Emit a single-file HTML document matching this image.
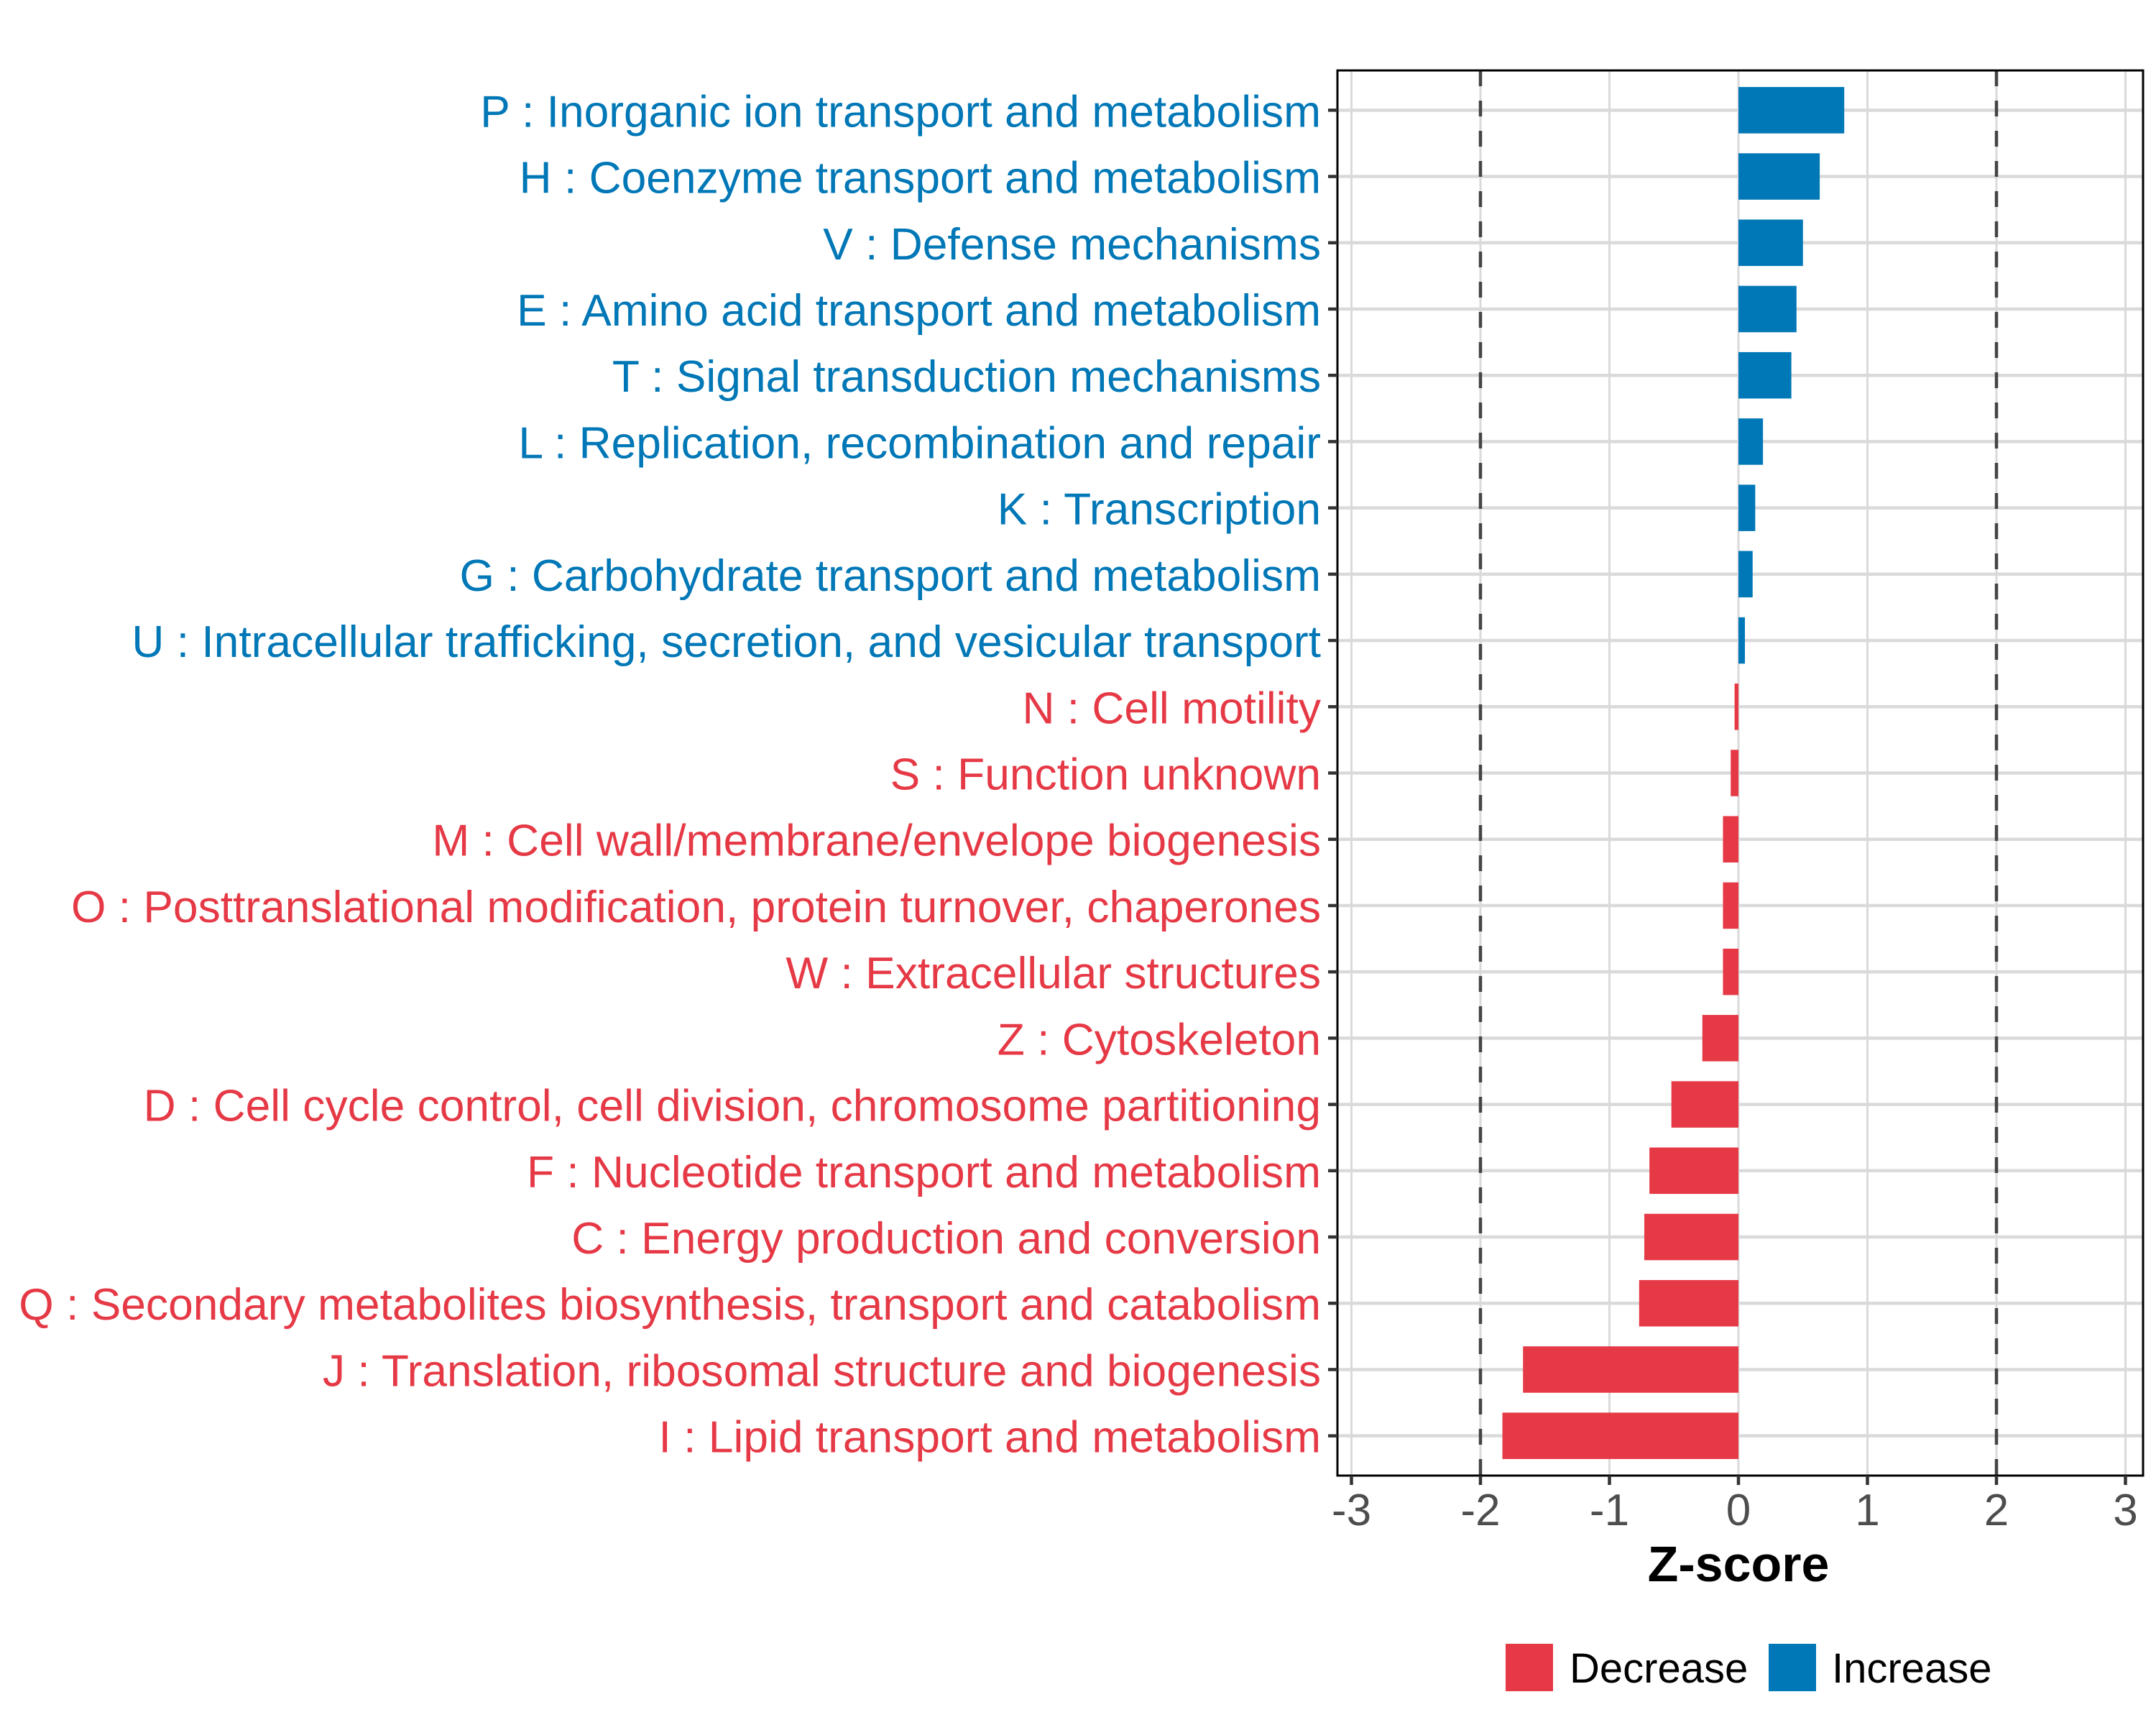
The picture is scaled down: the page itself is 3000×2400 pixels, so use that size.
<!DOCTYPE html>
<html><head><meta charset="utf-8"><style>html,body{margin:0;padding:0;background:#fff}svg{display:block}</style></head>
<body>
<svg id="chart" width="3000" height="2400" xmlns="http://www.w3.org/2000/svg" font-family="'Liberation Sans', sans-serif"></svg>
<script>
const categories = ["P : Inorganic ion transport and metabolism","H : Coenzyme transport and metabolism","V : Defense mechanisms","E : Amino acid transport and metabolism","T : Signal transduction mechanisms","L : Replication, recombination and repair","K : Transcription","G : Carbohydrate transport and metabolism","U : Intracellular trafficking, secretion, and vesicular transport","N : Cell motility","S : Function unknown","M : Cell wall/membrane/envelope biogenesis","O : Posttranslational modification, protein turnover, chaperones","W : Extracellular structures","Z : Cytoskeleton","D : Cell cycle control, cell division, chromosome partitioning","F : Nucleotide transport and metabolism","C : Energy production and conversion","Q : Secondary metabolites biosynthesis, transport and catabolism","J : Translation, ribosomal structure and biogenesis","I : Lipid transport and metabolism"];
const zscores = [0.82,0.63,0.50,0.45,0.41,0.19,0.13,0.11,0.05,-0.03,-0.06,-0.12,-0.12,-0.12,-0.28,-0.52,-0.69,-0.73,-0.77,-1.67,-1.83];
const xTicks = [-3,-2,-1,0,1,2,3];
const thresholds = [-2,2];
const legendLabels = ["Decrease","Increase"];

const NS="http://www.w3.org/2000/svg";
const svg=document.getElementById('chart');
const L=1861,R=2982,T=98,B=2053;
const x0=2419,unit=179.5;
const xs=v=>x0+v*unit;
const step=(B-T)/(categories.length-1+1.2);
const ys=i=>T+step*(0.6+i);
const RED="#E63946",BLUE="#0077B6";
function mk(tag,attrs,parent){const e=document.createElementNS(NS,tag);for(const k in attrs)e.setAttribute(k,attrs[k]);(parent||svg).appendChild(e);return e;}

const grid=mk('g',{});


xTicks.forEach(t=>{const l=mk('line',{x1:xs(t),x2:xs(t),y1:T,y2:B,stroke:'#dadada','stroke-width':3},grid);

});
categories.forEach((c,i)=>{const l=mk('line',{x1:L,x2:R,y1:ys(i),y2:ys(i),stroke:'#dadada','stroke-width':4.5},grid);

});

thresholds.forEach(t=>{const l=mk('line',{x1:xs(t),x2:xs(t),y1:T,y2:B,stroke:'#444','stroke-width':4.5,'stroke-dasharray':'22,20'});

});

const bh=step*0.7;
zscores.forEach((v,i)=>{const a=Math.min(xs(0),xs(v)),w=Math.abs(xs(v)-xs(0));
const r=mk('rect',{x:a,y:ys(i)-bh/2,width:w,height:bh,fill:v<0?RED:BLUE});

});

const border=mk('rect',{x:L,y:T,width:R-L,height:B-T,fill:'none',stroke:'#000','stroke-width':3});



const lab=mk('g',{});


const labInner=mk('g',{},lab);
categories.forEach((c,i)=>{
const tk=mk('line',{x1:L-13,x2:L,y1:ys(i),y2:ys(i),stroke:'#333','stroke-width':4.5});


const t=mk('text',{x:0,y:ys(i)+23,'text-anchor':'end','font-size':62,fill:zscores[i]<0?RED:BLUE},labInner);
t.textContent=c;

});
let maxW=0;labInner.querySelectorAll('text').forEach(t=>{maxW=Math.max(maxW,t.getComputedTextLength());});
const f=maxW>0?1812/maxW:1;
labInner.setAttribute('transform',`translate(1838,0) scale(${f},1)`);

xTicks.forEach(t=>{
const tk=mk('line',{x1:xs(t),x2:xs(t),y1:B,y2:B+13,stroke:'#333','stroke-width':4.5});


const tx=mk('text',{x:xs(t),y:2122,'text-anchor':'middle','font-size':62,fill:'#4d4d4d'});
tx.textContent=String(t);

});

const title=mk('text',{x:xs(0),y:2200,'text-anchor':'middle','font-size':70,'font-weight':'bold',fill:'#000'});
title.textContent="Z-score";



const legCols=[RED,BLUE],legX=[2095,2461],legTX=[2184,2549];
legendLabels.forEach((n,i)=>{
const g=mk('g',{});


mk('rect',{x:legX[i],y:2287,width:66,height:66,fill:legCols[i]},g);
const t=mk('text',{x:legTX[i],y:2341,'font-size':58,fill:'#000'},g);
t.textContent=n;});
</script>
</body></html>
